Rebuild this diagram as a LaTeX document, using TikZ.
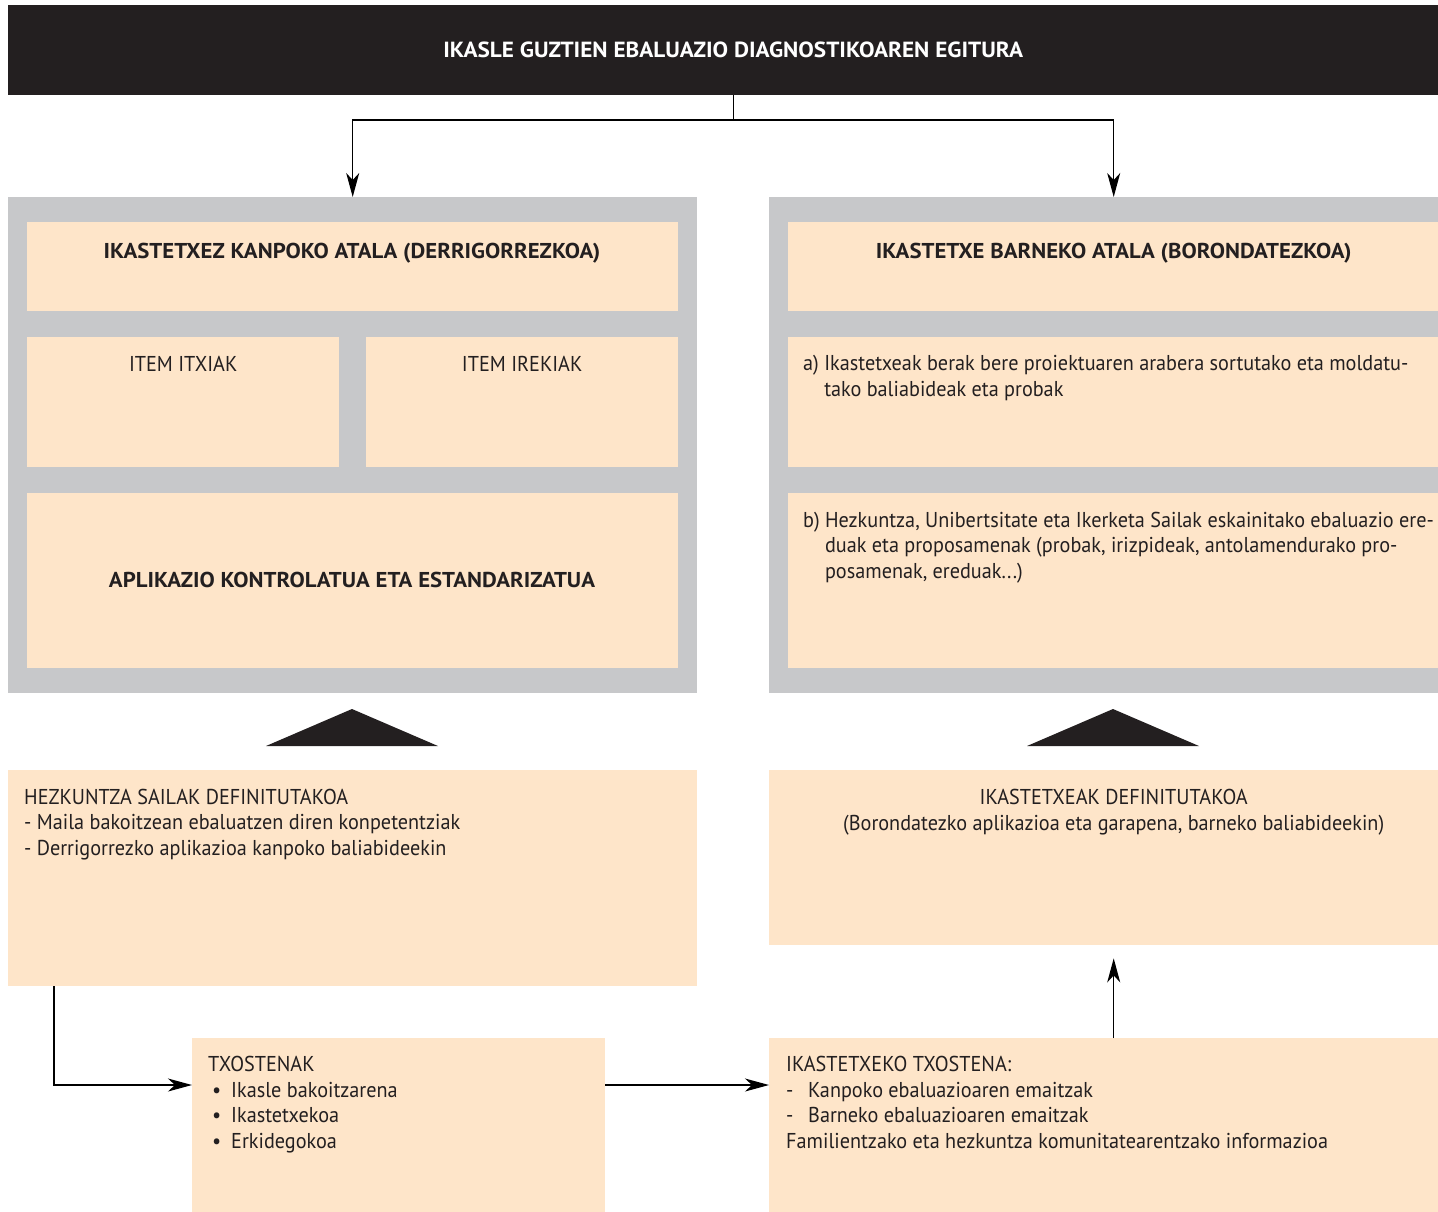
\documentclass[tikz,border=0pt]{standalone}
\usepackage{fontspec}
\setmainfont{PT Sans}[UprightFeatures={FakeStretch=0.94}, BoldFeatures={FakeStretch=1.06}]
\usepackage{tikz}
\usetikzlibrary{arrows.meta}

\definecolor{barblack}{HTML}{231F20}
\definecolor{panelgray}{HTML}{C7C8CA}
\definecolor{boxpeach}{HTML}{FEE5C9}
\definecolor{inkgray}{HTML}{231F20}

\begin{document}
\begin{tikzpicture}[x=1pt,y=-1pt,font=\fontsize{21.5}{25.5}\selectfont,text=inkgray]
\tikzstyle{title} = [rectangle, anchor=north west, inner sep=0pt, fill=barblack, text=white, font=\fontsize{21.9}{25.5}\selectfont\bfseries]
\tikzstyle{panel} = [rectangle, anchor=north west, inner sep=0pt, fill=panelgray]
\tikzstyle{box} = [rectangle, anchor=north west, inner sep=0pt, fill=boxpeach]
\tikzstyle{txt} = [inner sep=0pt, align=left, anchor=base west]
\tikzstyle{ctxt} = [inner sep=0pt, align=center, anchor=base]
\tikzstyle{bold} = [font=\fontsize{21.5}{25.5}\selectfont\bfseries]
\tikzstyle{arrow} = [line width=1.3pt, -{Stealth[length=24pt,width=13pt,inset=7pt]}]

\useasboundingbox (0,0) rectangle (1438,1211);
\clip (0,0) rectangle (1438,1211);

% title bar
\node (title) [title, minimum width=1450pt, minimum height=90pt] at (8,5) {IKASLE GUZTIEN EBALUAZIO DIAGNOSTIKOAREN EGITURA};

% left part
\node (panelL) [panel, minimum width=689pt, minimum height=496pt] at (8,197) {};
\node (hdrL) [box, minimum width=651pt, minimum height=89pt] at (27,222) {};
\node (itxiak) [box, minimum width=312pt, minimum height=130pt] at (27,337) {};
\node (irekiak) [box, minimum width=312pt, minimum height=130pt] at (366,337) {};
\node (aplik) [box, minimum width=651pt, minimum height=175pt] at (27,493) {};
\node (hdrLtxt) [ctxt, bold] at (352,258) {IKASTETXEZ KANPOKO ATALA (DERRIGORREZKOA)};
\node (itxiaktxt) [ctxt] at (itxiak.north |- 0,371) {ITEM ITXIAK};
\node (irekiaktxt) [ctxt] at (irekiak.north |- 0,371) {ITEM IREKIAK};
\node (apliktxt) [ctxt, bold] at (352,587) {APLIKAZIO KONTROLATUA ETA ESTANDARIZATUA};

% right part
\node (panelR) [panel, minimum width=689pt, minimum height=496pt] at (769,197) {};
\node (hdrR) [box, minimum width=651pt, minimum height=89pt] at (788,222) {};
\node (barnea) [box, minimum width=651pt, minimum height=130pt] at (788,337) {};
\node (barneb) [box, minimum width=651pt, minimum height=175pt] at (788,493) {};
\node (hdrRtxt) [ctxt, bold] at (hdrR.north |- 0,258) {IKASTETXE BARNEKO ATALA (BORONDATEZKOA)};
\node (barneatxt) [txt] at (803,396) {a) Ikastetxeak berak bere proiektuaren arabera sortutako eta moldatu-\\\hphantom{a) }tako baliabideak eta probak};
\node (barnebtxt) [txt] at (803,578) {b) Hezkuntza, Unibertsitate eta Ikerketa Sailak eskainitako ebaluazio ere-\\\hphantom{b) }duak eta proposamenak (probak, irizpideak, antolamendurako pro-\\\hphantom{b) }posamenak, ereduak...)};

% triangles
\fill [barblack] (266,746) -- (352,709) -- (438,746) -- cycle;
\fill [barblack] (1027,746) -- (1113,709) -- (1199,746) -- cycle;

% lower boxes
\node (hezk) [box, minimum width=689pt, minimum height=216pt] at (8,770) {};
\node (ikdef) [box, minimum width=689pt, minimum height=175pt] at (769,770) {};
\node (txost) [box, minimum width=413pt, minimum height=190pt] at (192,1038) {};
\node (ikrep) [box, minimum width=689pt, minimum height=190pt] at (769,1038) {};
\node (hezktxt) [txt] at (24,855) {HEZKUNTZA SAILAK DEFINITUTAKOA\\- Maila bakoitzean ebaluatzen diren konpetentziak\\- Derrigorrezko aplikazioa kanpoko baliabideekin};
\node (ikdeftxt) [ctxt] at (ikdef.north |- 0,830) {IKASTETXEAK DEFINITUTAKOA\\(Borondatezko aplikazioa eta garapena, barneko baliabideekin)};
\node (txosttxt) [txt] at (208,1148) {TXOSTENAK\\\hbox to 23pt{\hskip4pt\textbullet\hss}Ikasle bakoitzarena\\\hbox to 23pt{\hskip4pt\textbullet\hss}Ikastetxekoa\\\hbox to 23pt{\hskip4pt\textbullet\hss}Erkidegokoa};
\node (ikreptxt) [txt] at (786,1148) {IKASTETXEKO TXOSTENA:\\\hbox to 22pt{-\hss}Kanpoko ebaluazioaren emaitzak\\\hbox to 22pt{-\hss}Barneko ebaluazioaren emaitzak\\Familientzako eta hezkuntza komunitatearentzako informazioa};

% connectors
\coordinate (split) at (title.south |- 0,120);
\draw [line width=1.3pt] (title.south) -- (split);
\draw [arrow] (split) -| (panelL.north);
\draw [arrow] (split) -| (hdrR.north |- panelR.north);
\draw [arrow] ([xshift=46pt]hezk.south west) |- ([yshift=-47pt]txost.north west);
\draw [arrow] ([yshift=-47pt]txost.north east) -- ([yshift=-47pt]ikrep.north west);
\draw [arrow, shorten >=13pt] (ikrep.north) -- (ikdef.south);

\end{tikzpicture}
\end{document}
